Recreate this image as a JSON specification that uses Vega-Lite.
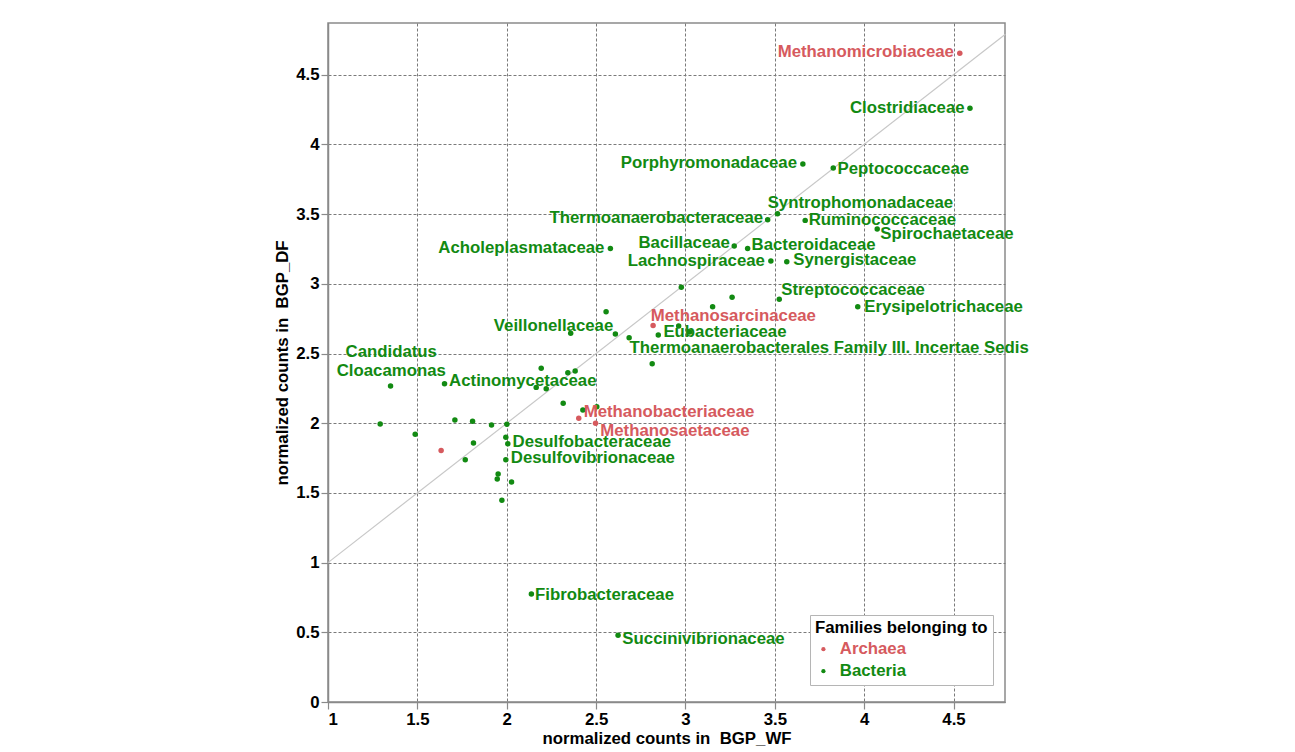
{
  "$schema": "https://vega.github.io/schema/vega-lite/v6.json",
  "autosize": {"type": "none"},
  "padding": {"left": 328, "top": 23, "right": 290, "bottom": 50},
  "width": 677,
  "height": 679,
  "background": "white",
  "config": {
    "font": "Liberation Sans",
    "view": {"stroke": "#8a8a8a", "strokeWidth": 1.5},
    "axis": {
      "labelFont": "Liberation Sans",
      "labelFontWeight": "bold",
      "labelFontSize": 16.8,
      "labelColor": "black",
      "titleFont": "Liberation Sans",
      "titleFontWeight": "bold",
      "titleFontSize": 16.8,
      "titleColor": "black",
      "domainColor": "#8a8a8a",
      "domainWidth": 1.5,
      "tickColor": "#8a8a8a",
      "tickSize": 7,
      "tickWidth": 1.2,
      "labelPadding": 2,
      "grid": true,
      "gridColor": "#7a7a7a",
      "gridDash": [3, 2],
      "gridWidth": 1,
      "format": "~g"
    }
  },
  "datasets": {
    "families": [
      {"family": "Methanomicrobiaceae", "domain": "Archaea", "wf": 4.535, "df": 4.654, "label": "Methanomicrobiaceae", "lx": 4.009, "ly": 4.662},
      {"family": "Clostridiaceae", "domain": "Bacteria", "wf": 4.592, "df": 4.260, "label": "Clostridiaceae", "lx": 4.241, "ly": 4.262},
      {"family": "Porphyromonadaceae", "domain": "Bacteria", "wf": 3.657, "df": 3.859, "label": "Porphyromonadaceae", "lx": 3.131, "ly": 3.866},
      {"family": "Peptococcaceae", "domain": "Bacteria", "wf": 3.827, "df": 3.830, "label": "Peptococcaceae", "lx": 4.219, "ly": 3.823},
      {"family": "Syntrophomonadaceae", "domain": "Bacteria", "wf": 3.515, "df": 3.502, "label": "Syntrophomonadaceae", "lx": 3.979, "ly": 3.581},
      {"family": "Thermoanaerobacteraceae", "domain": "Bacteria", "wf": 3.460, "df": 3.460, "label": "Thermoanaerobacteraceae", "lx": 2.837, "ly": 3.471},
      {"family": "Ruminococcaceae", "domain": "Bacteria", "wf": 3.670, "df": 3.455, "label": "Ruminococcaceae", "lx": 4.102, "ly": 3.460},
      {"family": "Spirochaetaceae", "domain": "Bacteria", "wf": 4.073, "df": 3.393, "label": "Spirochaetaceae", "lx": 4.463, "ly": 3.360},
      {"family": "Bacillaceae", "domain": "Bacteria", "wf": 3.273, "df": 3.272, "label": "Bacillaceae", "lx": 2.993, "ly": 3.293},
      {"family": "Bacteroidaceae", "domain": "Bacteria", "wf": 3.348, "df": 3.253, "label": "Bacteroidaceae", "lx": 3.717, "ly": 3.281},
      {"family": "Acholeplasmataceae", "domain": "Bacteria", "wf": 2.580, "df": 3.253, "label": "Acholeplasmataceae", "lx": 2.082, "ly": 3.258},
      {"family": "Lachnospiraceae", "domain": "Bacteria", "wf": 3.478, "df": 3.163, "label": "Lachnospiraceae", "lx": 3.061, "ly": 3.165},
      {"family": "Synergistaceae", "domain": "Bacteria", "wf": 3.567, "df": 3.158, "label": "Synergistaceae", "lx": 3.948, "ly": 3.170},
      {"family": "Streptococcaceae", "domain": "Bacteria", "wf": 3.525, "df": 2.890, "label": "Streptococcaceae", "lx": 3.938, "ly": 2.956},
      {"family": "Erysipelotrichaceae", "domain": "Bacteria", "wf": 3.964, "df": 2.835, "label": "Erysipelotrichaceae", "lx": 4.444, "ly": 2.833},
      {"family": "Methanosarcinaceae", "domain": "Archaea", "wf": 2.819, "df": 2.701, "label": "Methanosarcinaceae", "lx": 3.268, "ly": 2.766},
      {"family": "Veillonellaceae", "domain": "Bacteria", "wf": 2.358, "df": 2.646, "label": "Veillonellaceae", "lx": 2.262, "ly": 2.695},
      {"family": "Eubacteriaceae", "domain": "Bacteria", "wf": 2.848, "df": 2.632, "label": "Eubacteriaceae", "lx": 3.221, "ly": 2.654},
      {"family": "Thermoanaerobacterales Family III. Incertae Sedis", "domain": "Bacteria", "wf": 2.685, "df": 2.613, "label": "Thermoanaerobacterales Family III. Incertae Sedis", "lx": 3.804, "ly": 2.539},
      {"family": "Candidatus Cloacamonas", "domain": "Bacteria", "wf": 1.350, "df": 2.267, "label": "Candidatus\nCloacamonas", "lx": 1.354, "ly": 2.508},
      {"family": "Actinomycetaceae", "domain": "Bacteria", "wf": 1.652, "df": 2.283, "label": "Actinomycetaceae", "lx": 2.090, "ly": 2.303},
      {"family": "Methanobacteriaceae", "domain": "Archaea", "wf": 2.403, "df": 2.035, "label": "Methanobacteriaceae", "lx": 2.908, "ly": 2.078},
      {"family": "Methanosaetaceae", "domain": "Archaea", "wf": 2.497, "df": 1.999, "label": "Methanosaetaceae", "lx": 2.941, "ly": 1.944},
      {"family": "Desulfobacteraceae", "domain": "Bacteria", "wf": 2.006, "df": 1.853, "label": "Desulfobacteraceae", "lx": 2.476, "ly": 1.863},
      {"family": "Desulfovibrionaceae", "domain": "Bacteria", "wf": 1.995, "df": 1.738, "label": "Desulfovibrionaceae", "lx": 2.482, "ly": 1.748},
      {"family": "Fibrobacteraceae", "domain": "Bacteria", "wf": 2.138, "df": 0.774, "label": "Fibrobacteraceae", "lx": 2.547, "ly": 0.769},
      {"family": "Succinivibrionaceae", "domain": "Bacteria", "wf": 2.623, "df": 0.479, "label": "Succinivibrionaceae", "lx": 3.101, "ly": 0.452},
      {"family": "", "domain": "Bacteria", "wf": 2.977, "df": 2.975},
      {"family": "", "domain": "Bacteria", "wf": 3.261, "df": 2.904},
      {"family": "", "domain": "Bacteria", "wf": 3.152, "df": 2.836},
      {"family": "", "domain": "Bacteria", "wf": 2.556, "df": 2.800},
      {"family": "", "domain": "Bacteria", "wf": 2.962, "df": 2.697},
      {"family": "", "domain": "Bacteria", "wf": 3.023, "df": 2.655},
      {"family": "", "domain": "Bacteria", "wf": 2.608, "df": 2.640},
      {"family": "", "domain": "Bacteria", "wf": 2.193, "df": 2.394},
      {"family": "", "domain": "Bacteria", "wf": 2.342, "df": 2.362},
      {"family": "", "domain": "Bacteria", "wf": 2.383, "df": 2.374},
      {"family": "", "domain": "Bacteria", "wf": 2.814, "df": 2.427},
      {"family": "", "domain": "Bacteria", "wf": 2.165, "df": 2.257},
      {"family": "", "domain": "Bacteria", "wf": 2.221, "df": 2.248},
      {"family": "", "domain": "Bacteria", "wf": 2.316, "df": 2.143},
      {"family": "", "domain": "Bacteria", "wf": 2.426, "df": 2.095},
      {"family": "", "domain": "Bacteria", "wf": 2.504, "df": 2.118},
      {"family": "", "domain": "Bacteria", "wf": 1.292, "df": 1.994},
      {"family": "", "domain": "Bacteria", "wf": 1.488, "df": 1.920},
      {"family": "", "domain": "Bacteria", "wf": 1.710, "df": 2.023},
      {"family": "", "domain": "Bacteria", "wf": 1.809, "df": 2.014},
      {"family": "", "domain": "Bacteria", "wf": 1.915, "df": 1.987},
      {"family": "", "domain": "Bacteria", "wf": 2.001, "df": 1.992},
      {"family": "", "domain": "Archaea", "wf": 1.633, "df": 1.805},
      {"family": "", "domain": "Bacteria", "wf": 1.814, "df": 1.858},
      {"family": "", "domain": "Bacteria", "wf": 1.995, "df": 1.899},
      {"family": "", "domain": "Bacteria", "wf": 1.768, "df": 1.738},
      {"family": "", "domain": "Bacteria", "wf": 1.952, "df": 1.636},
      {"family": "", "domain": "Bacteria", "wf": 1.947, "df": 1.600},
      {"family": "", "domain": "Bacteria", "wf": 2.027, "df": 1.578},
      {"family": "", "domain": "Bacteria", "wf": 1.973, "df": 1.447}
    ],
    "diagonal": [
      {"x1": 1, "y1": 1, "x2": 4.79, "y2": 4.79}
    ]
  },
  "layer": [
    {
      "data": {"name": "diagonal"},
      "mark": {"type": "rule", "color": "#c8c8c8", "strokeWidth": 1.2},
      "encoding": {
        "x": {"field": "x1", "type": "quantitative", "scale": {"domain": [1, 4.788], "nice": false, "zero": false}},
        "y": {"field": "y1", "type": "quantitative", "scale": {"domain": [0, 4.871], "nice": false, "zero": false}},
        "x2": {"field": "x2"},
        "y2": {"field": "y2"}
      }
    },
    {
      "data": {"name": "families"},
      "mark": {"type": "circle", "opacity": 1, "size": 30},
      "encoding": {
        "x": {
          "field": "wf", "type": "quantitative",
          "scale": {"domain": [1, 4.788], "nice": false, "zero": false},
          "axis": {"values": [1, 1.5, 2, 2.5, 3, 3.5, 4, 4.5], "format": "~g", "title": "normalized counts in\u00a0 BGP_WF", "titlePadding": 3}
        },
        "y": {
          "field": "df", "type": "quantitative",
          "scale": {"domain": [0, 4.871], "nice": false, "zero": false},
          "axis": {"values": [0, 0.5, 1, 1.5, 2, 2.5, 3, 3.5, 4, 4.5], "format": "~g", "title": "normalized counts in\u00a0 BGP_DF", "titlePadding": 4}
        },
        "color": {
          "field": "domain", "type": "nominal",
          "scale": {"domain": ["Archaea", "Bacteria"], "range": ["#d65a5e", "#128a12"]},
          "legend": {
            "title": "Families belonging to",
            "orient": "none",
            "legendX": 482,
            "legendY": 592,
            "padding": 5,
            "strokeColor": "#b5b5b5",
            "fillColor": "white",
            "titleFont": "Liberation Sans",
            "titleFontSize": 16.8,
            "titleFontWeight": "bold",
            "titleColor": "black",
            "titlePadding": 4,
            "labelFont": "Liberation Sans",
            "labelFontSize": 16.8,
            "labelFontWeight": "bold",
            "labelColor": {"expr": "datum.value === 'Archaea' ? '#d65a5e' : '#128a12'"},
            "labelOffset": 8,
            "rowPadding": 4,
            "symbolType": "circle",
            "symbolSize": 18,
            "symbolStrokeWidth": 0
          }
        }
      }
    },
    {
      "data": {"name": "families"},
      "transform": [{"filter": "datum.label != null"}],
      "mark": {"type": "text", "font": "Liberation Sans", "fontWeight": "bold", "fontSize": 16.8, "align": "center", "baseline": "middle", "lineBreak": "\n", "lineHeight": 18.5},
      "encoding": {
        "x": {"field": "lx", "type": "quantitative"},
        "y": {"field": "ly", "type": "quantitative"},
        "text": {"field": "label"},
        "color": {"field": "domain", "type": "nominal", "legend": null}
      }
    }
  ]
}
